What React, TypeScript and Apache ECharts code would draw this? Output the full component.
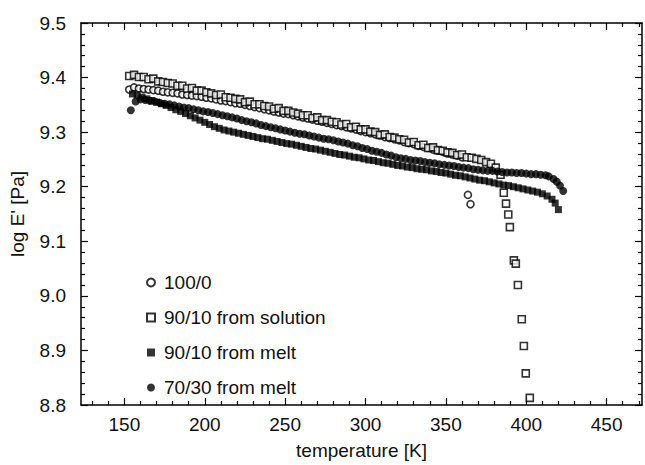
import React, { useEffect, useRef } from "react";
import * as echarts from "echarts";

// ---- Data ----
// 100/0 (open circles)
const s100T = [153, 156, 159, 162, 165, 168, 171, 174, 177, 180, 183, 186, 189, 192, 195, 198, 201, 204, 207, 210, 213, 216, 219, 222, 225, 228, 231, 234, 237, 240, 243, 246, 249, 252, 255, 258, 261, 264, 267, 270, 273, 276, 279, 282, 285, 288, 291, 294, 297, 300, 303, 306, 309, 312, 315, 318, 321, 324, 327, 330, 333, 336, 339, 342, 345, 348, 351, 354, 357, 360, 363.7, 365.3];
const s100V = [9.378, 9.382, 9.380, 9.379, 9.378, 9.377, 9.376, 9.374, 9.373, 9.372, 9.371, 9.369, 9.368, 9.367, 9.366, 9.365, 9.363, 9.362, 9.360, 9.358, 9.357, 9.355, 9.353, 9.352, 9.350, 9.348, 9.346, 9.344, 9.342, 9.340, 9.338, 9.336, 9.334, 9.333, 9.331, 9.329, 9.327, 9.325, 9.323, 9.321, 9.319, 9.317, 9.315, 9.313, 9.311, 9.309, 9.307, 9.305, 9.302, 9.300, 9.298, 9.296, 9.294, 9.291, 9.289, 9.287, 9.285, 9.282, 9.280, 9.278, 9.275, 9.273, 9.271, 9.268, 9.266, 9.264, 9.261, 9.259, 9.257, 9.254, 9.185, 9.168];

// 90/10 from solution (open squares)
const sol10T = [153, 156, 159, 162, 165, 168, 171, 174, 177, 180, 183, 186, 189, 192, 195, 198, 201, 204, 207, 210, 213, 216, 219, 222, 225, 228, 231, 234, 237, 240, 243, 246, 249, 252, 255, 258, 261, 264, 267, 270, 273, 276, 279, 282, 285, 288, 291, 294, 297, 300, 303, 306, 309, 312, 315, 318, 321, 324, 327, 330, 333, 336, 339, 342, 345, 348, 351, 354, 357, 360, 363, 366, 369, 372, 375, 378, 381, 384, 386, 387.4, 388.8, 389.8, 392.3, 393.5, 394.8, 397.2, 398.5, 399.7, 402.2];
const sol10V = [9.403, 9.405, 9.401, 9.401, 9.397, 9.398, 9.393, 9.392, 9.390, 9.389, 9.385, 9.385, 9.380, 9.381, 9.376, 9.376, 9.373, 9.371, 9.368, 9.369, 9.364, 9.363, 9.361, 9.360, 9.355, 9.356, 9.351, 9.351, 9.348, 9.347, 9.343, 9.344, 9.339, 9.339, 9.336, 9.334, 9.331, 9.331, 9.326, 9.327, 9.322, 9.322, 9.319, 9.318, 9.314, 9.315, 9.309, 9.310, 9.305, 9.305, 9.301, 9.300, 9.295, 9.296, 9.291, 9.290, 9.287, 9.286, 9.281, 9.282, 9.276, 9.277, 9.271, 9.272, 9.267, 9.266, 9.263, 9.262, 9.258, 9.259, 9.254, 9.253, 9.251, 9.249, 9.245, 9.242, 9.235, 9.222, 9.189, 9.169, 9.149, 9.126, 9.065, 9.059, 9.020, 8.957, 8.908, 8.858, 8.813];

// 90/10 from melt (filled squares)
const m10T = [155, 158, 161, 164, 167, 170, 173, 176, 179, 182, 185, 188, 191, 194, 197, 200, 203, 206, 209, 212, 215, 218, 221, 224, 227, 230, 233, 236, 239, 242, 245, 248, 251, 254, 257, 260, 263, 266, 269, 272, 275, 278, 281, 284, 287, 290, 293, 296, 299, 302, 305, 308, 311, 314, 317, 320, 323, 326, 329, 332, 335, 338, 341, 344, 347, 350, 353, 356, 359, 362, 365, 368, 371, 374, 377, 380, 383, 386, 389, 392, 395, 398, 401, 404, 407, 410, 413, 416, 418, 420];
const m10V = [9.370, 9.368, 9.364, 9.361, 9.358, 9.355, 9.352, 9.349, 9.345, 9.341, 9.338, 9.334, 9.330, 9.326, 9.322, 9.318, 9.314, 9.310, 9.307, 9.304, 9.302, 9.300, 9.298, 9.296, 9.294, 9.292, 9.290, 9.288, 9.287, 9.285, 9.283, 9.281, 9.279, 9.278, 9.276, 9.274, 9.272, 9.270, 9.269, 9.267, 9.265, 9.263, 9.261, 9.259, 9.258, 9.256, 9.254, 9.253, 9.251, 9.249, 9.248, 9.246, 9.244, 9.243, 9.241, 9.239, 9.238, 9.236, 9.235, 9.233, 9.232, 9.231, 9.229, 9.228, 9.226, 9.225, 9.223, 9.221, 9.220, 9.218, 9.216, 9.214, 9.212, 9.211, 9.209, 9.207, 9.205, 9.203, 9.202, 9.200, 9.198, 9.196, 9.194, 9.192, 9.190, 9.187, 9.183, 9.177, 9.170, 9.158];

// 70/30 from melt (filled circles)
const m30T = [154, 157, 160, 163, 166, 169, 172, 175, 178, 181, 184, 187, 190, 193, 196, 199, 202, 205, 208, 211, 214, 217, 220, 223, 226, 229, 232, 235, 238, 241, 244, 247, 250, 253, 256, 259, 262, 265, 268, 271, 274, 277, 280, 283, 286, 289, 292, 295, 298, 301, 304, 307, 310, 313, 316, 319, 322, 325, 328, 331, 334, 337, 340, 343, 346, 349, 352, 355, 358, 361, 364, 367, 370, 373, 376, 379, 382, 385, 388, 391, 394, 397, 400, 403, 406, 409, 412, 414, 417, 419, 421, 423];
const m30V = [9.340, 9.356, 9.360, 9.359, 9.357, 9.356, 9.354, 9.352, 9.351, 9.349, 9.347, 9.345, 9.344, 9.342, 9.340, 9.338, 9.337, 9.335, 9.333, 9.331, 9.329, 9.327, 9.325, 9.322, 9.320, 9.318, 9.316, 9.313, 9.311, 9.309, 9.307, 9.305, 9.303, 9.301, 9.299, 9.297, 9.296, 9.294, 9.292, 9.290, 9.288, 9.287, 9.285, 9.283, 9.281, 9.279, 9.276, 9.274, 9.271, 9.269, 9.266, 9.264, 9.262, 9.259, 9.257, 9.254, 9.252, 9.251, 9.249, 9.248, 9.247, 9.245, 9.244, 9.243, 9.241, 9.240, 9.239, 9.238, 9.236, 9.235, 9.234, 9.232, 9.231, 9.230, 9.229, 9.229, 9.228, 9.227, 9.226, 9.226, 9.225, 9.225, 9.224, 9.223, 9.223, 9.222, 9.221, 9.219, 9.214, 9.209, 9.202, 9.192];

const seriesNames = ["100/0", "90/10 from solution", "90/10 from melt", "70/30 from melt"];
const xMajorTicks = [150, 200, 250, 300, 350, 400, 450];
const xMinorTicks = [130, 140, 160, 170, 180, 190, 210, 220, 230, 240, 260, 270, 280, 290, 310, 320, 330, 340, 360, 370, 380, 390, 410, 420, 430, 440, 460, 470];

const FONT = "'Liberation Sans', Arial, Helvetica, sans-serif";
const X_MIN = 123;
const X_MAX = 472;

const zip = (t: number[], v: number[]) => t.map((x, i) => [x, v[i]]);

export default function App() {
  const ref = useRef<HTMLDivElement>(null);
  useEffect(() => {
    if (!ref.current) return;
    const chart = echarts.init(ref.current, null, { renderer: "svg" });
    const axisLine = { show: true, lineStyle: { color: "#000", width: 1.5 } };
    const majorTick = (values: number[]) => ({
      show: true,
      inside: true,
      length: 7,
      customValues: values,
      lineStyle: { color: "#000", width: 1.2 },
    });
    const minorTickX = (values: number[]) => ({
      show: true,
      inside: true,
      length: 4,
      customValues: values,
      lineStyle: { color: "#000", width: 1.2 },
    });
    const xBase = { type: "value", min: X_MIN, max: X_MAX, splitLine: { show: false } };
    const yBase = {
      type: "value",
      min: 8.8,
      max: 9.5,
      interval: 0.1,
      splitLine: { show: false },
      axisLine,
      axisTick: { show: true, inside: true, length: 7, lineStyle: { color: "#000", width: 1.2 } },
      minorTick: { show: true, splitNumber: 5, length: 4, lineStyle: { color: "#000", width: 1.2 } },
    };
    const option = {
      animation: false,
      backgroundColor: "#fff",
      textStyle: { fontFamily: FONT },
      grid: { left: 77, top: 23, width: 565, height: 389 },
      legend: {
        orient: "vertical",
        left: 146,
        top: 273,
        padding: 0,
        itemWidth: 8,
        itemHeight: 8,
        itemGap: 16,
        data: seriesNames,
        textStyle: { fontFamily: FONT, fontSize: 19, color: "#111", lineHeight: 19, padding: [0, 0, 0, 4] },
      },
      xAxis: [
        {
          ...xBase,
          position: "bottom",
          axisLine,
          axisTick: majorTick(xMajorTicks),
          axisLabel: { customValues: xMajorTicks, fontSize: 19, color: "#111", margin: 10, fontFamily: FONT },
          name: "temperature [K]",
          nameLocation: "middle",
          nameGap: 36,
          nameTextStyle: { fontSize: 19, color: "#111", fontFamily: FONT },
        },
        {
          ...xBase,
          position: "bottom",
          axisLine: { show: false },
          axisTick: minorTickX(xMinorTicks),
          axisLabel: { show: false },
        },
        {
          ...xBase,
          position: "top",
          axisLine,
          axisTick: majorTick(xMajorTicks),
          axisLabel: { show: false },
        },
        {
          ...xBase,
          position: "top",
          axisLine: { show: false },
          axisTick: minorTickX(xMinorTicks),
          axisLabel: { show: false },
        },
      ],
      yAxis: [
        {
          ...yBase,
          position: "left",
          axisLabel: {
            fontSize: 19,
            color: "#111",
            margin: 15,
            fontFamily: FONT,
            formatter: (v: number) => v.toFixed(1),
          },
          name: "log E' [Pa]",
          nameLocation: "middle",
          nameGap: 54,
          nameTextStyle: { fontSize: 19, color: "#111", fontFamily: FONT },
        },
        {
          ...yBase,
          position: "right",
          axisLabel: { show: false },
        },
      ],
      series: [
        {
          name: seriesNames[0],
          type: "scatter",
          symbol: "circle",
          symbolSize: 7,
          itemStyle: { color: "#fff", borderColor: "#000", borderWidth: 1.6 },
          data: zip(s100T, s100V),
        },
        {
          name: seriesNames[1],
          type: "scatter",
          symbol: "rect",
          symbolSize: 7,
          itemStyle: { color: "#fff", borderColor: "#000", borderWidth: 1.6 },
          data: zip(sol10T, sol10V),
        },
        {
          name: seriesNames[2],
          type: "scatter",
          symbol: "rect",
          symbolSize: 7,
          itemStyle: { color: "#000" },
          data: zip(m10T, m10V),
        },
        {
          name: seriesNames[3],
          type: "scatter",
          symbol: "circle",
          symbolSize: 8,
          itemStyle: { color: "#000" },
          data: zip(m30T, m30V),
        },
      ],
    };
    chart.setOption(option as any);
    return () => chart.dispose();
  }, []);
  return (
    <div
      ref={ref}
      style={{ position: "fixed", left: 0, top: 0, width: 645, height: 465, background: "#fff" }}
    />
  );
}
